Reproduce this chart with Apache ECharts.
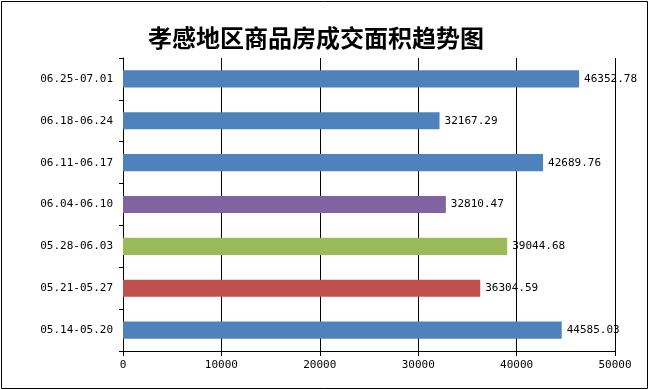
<!DOCTYPE html>
<html><head><meta charset="utf-8">
<script src="https://cdn.jsdelivr.net/npm/echarts@6/dist/echarts.min.js"></script>
<style>html,body{margin:0;padding:0;background:#fff}#c{width:649px;height:390px}</style>
</head><body><div id="c"></div>
<script>
const categories = ['05.14-05.20','05.21-05.27','05.28-06.03','06.04-06.10','06.11-06.17','06.18-06.24','06.25-07.01'];
const values = [44585.03, 36304.59, 39044.68, 32810.47, 42689.76, 32167.29, 46352.78];
const barColors = ['#4F81BD','#C0504D','#9BBB59','#8064A2','#4F81BD','#4F81BD','#4F81BD'];
const xTicks = [0, 10000, 20000, 30000, 40000, 50000];
const titleText = '孝感地区商品房成交面积趋势图';

const chart = echarts.init(document.getElementById('c'), null, {renderer:'canvas'});
const mono = 'DejaVu Sans Mono';
chart.setOption({
  animation: false,
  backgroundColor: '#fff',
  title: {
    text: titleText, left: 143, top: 21,
    textStyle: {fontFamily: 'Noto Sans CJK SC', fontWeight: 'bold', fontSize: 24, color: '#000'}
  },
  grid: {left: 123, right: 34, top: 58, bottom: 39, containLabel: false},
  xAxis: {
    type: 'value', min: xTicks[0], max: xTicks[xTicks.length-1], interval: 10000,
    axisLine: {show: true, lineStyle: {color: '#000', width: 1}},
    axisTick: {show: true, length: 5, lineStyle: {color: '#000'}},
    splitLine: {show: true, lineStyle: {color: '#000', width: 1}},
    axisLabel: {margin: 9, color: '#000', fontFamily: mono, fontSize: 11, formatter: v => String(v)}
  },
  yAxis: {
    type: 'category', data: categories,
    axisLine: {show: true, lineStyle: {color: '#000', width: 1}},
    axisTick: {show: true, length: 4, lineStyle: {color: '#000'}},
    axisLabel: {margin: 10, color: '#000', fontFamily: mono, fontSize: 11}
  },
  series: [{
    type: 'bar', barCategoryGap: '59%',
    data: values.map((v, i) => ({value: v, itemStyle: {color: barColors[i]}})),
    label: {
      show: true, position: 'right', distance: 5, color: '#000',
      fontFamily: mono, fontSize: 11,
      formatter: p => p.value.toFixed(2)
    }
  }],
  graphic: [
    {type: 'rect', shape: {x: 1.5, y: 1.5, width: 646, height: 387}, style: {fill: 'none', stroke: '#000', lineWidth: 1}, silent: true, z: 100}
  ]
});
</script></body></html>
